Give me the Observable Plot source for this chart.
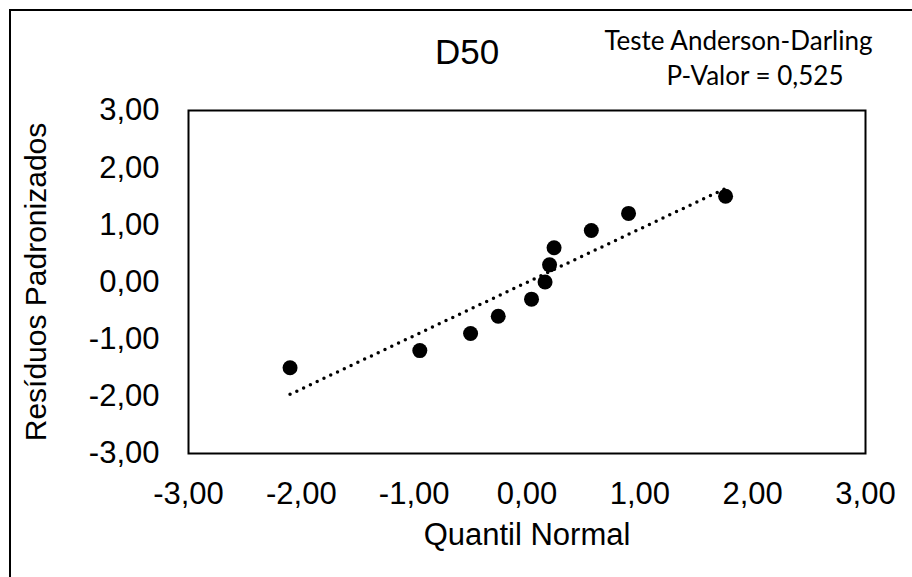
<!DOCTYPE html>
<html>
<head>
<meta charset="utf-8">
<script src="https://cdn.jsdelivr.net/npm/d3@7"></script>
<script src="https://cdn.jsdelivr.net/npm/@observablehq/plot@0.6"></script>
<style>
  html, body { margin: 0; padding: 0; background: #fff; }
  #wrap { position: relative; width: 912px; height: 577px; overflow: hidden; }
  #border { position: absolute; left: 9px; top: 9px; width: 1000px; height: 1000px; border-left: 2px solid #000; border-top: 2px solid #000; pointer-events: none; }
  #chart { position: absolute; left: 0; top: 0; }
</style>
</head>
<body>
<div id="wrap"><div id="chart"></div><div id="border"></div></div>
<script>
const quantilNormal = [-2.10, -0.95, -0.50, -0.255, 0.04, 0.16, 0.20, 0.24, 0.57, 0.90, 1.76];
const residuos      = [-1.50, -1.20, -0.90, -0.60, -0.30, 0.00, 0.30, 0.60, 0.90, 1.20, 1.50];
const tickValues = [-3, -2, -1, 0, 1, 2, 3];
const titulo = "D50";
const xTitulo = "Quantil Normal";
const yTitulo = "Resíduos Padronizados";
const nota1 = "Teste Anderson-Darling";
const nota2 = "P-Valor = 0,525";

const data = quantilNormal.map((q, i) => ({q, r: residuos[i]}));
const fmt = d => d.toFixed(2).replace(".", ",");

const chart = Plot.plot({
  width: 912,
  height: 577,
  marginLeft: 188,
  marginRight: 47,
  marginTop: 110,
  marginBottom: 124,
  style: {fontFamily: "Arial, 'Liberation Sans', sans-serif", fontSize: "31px", color: "#000", background: "transparent"},
  x: {domain: [-3, 3], ticks: tickValues, tickSize: 0, tickPadding: 28, tickFormat: fmt, label: null},
  y: {domain: [-3, 3], ticks: tickValues, tickSize: 0, tickPadding: 29, tickFormat: fmt, label: null},
  marks: [
    Plot.frame({stroke: "#000", strokeWidth: 2}),
    Plot.linearRegressionY(data, {x: "q", y: "r", ci: 0, stroke: "#000", strokeWidth: 3.5, strokeDasharray: "0 7.5", strokeLinecap: "round"}),
    Plot.dot(data, {x: "q", y: "r", r: 7.5, fill: "#000", stroke: null}),
    Plot.text([titulo], {frameAnchor: "top", lineAnchor: "top", dx: -60, dy: -71, fontSize: 35, fill: "#000"}),
    Plot.text([xTitulo], {frameAnchor: "bottom", lineAnchor: "bottom", dy: 91, fontSize: 31, fill: "#000"}),
    Plot.text([yTitulo], {frameAnchor: "left", textAnchor: "middle", lineAnchor: "middle", dx: -152, rotate: -90, fontSize: 30, fill: "#000"}),
    Plot.text([nota1], {frameAnchor: "top-right", textAnchor: "end", lineAnchor: "top", dx: 7, dy: -79, fontSize: 26, fontFamily: "Lato, 'Open Sans', sans-serif", fill: "#000"}),
    Plot.text([nota2], {frameAnchor: "top-right", textAnchor: "end", lineAnchor: "top", dx: -22, dy: -44, fontSize: 26, fontFamily: "Lato, 'Open Sans', sans-serif", fill: "#000"})
  ]
});
document.getElementById("chart").appendChild(chart);
</script>
</body>
</html>
